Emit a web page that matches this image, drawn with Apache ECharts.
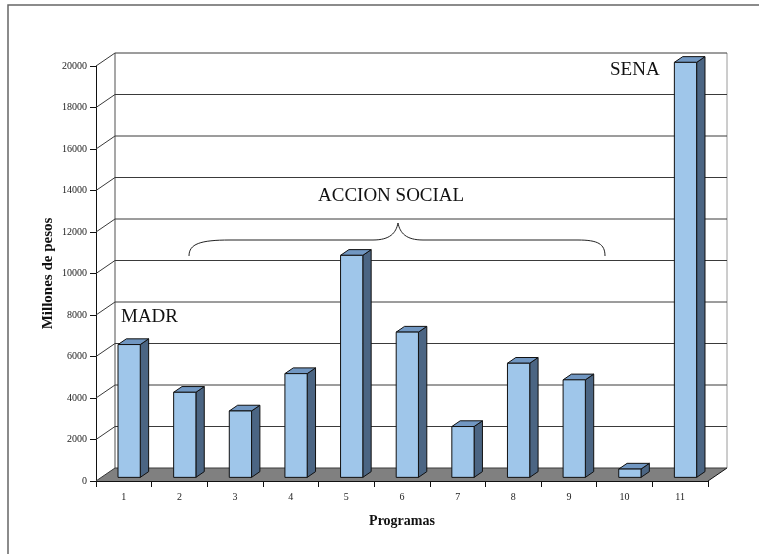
<!DOCTYPE html>
<html>
<head>
<meta charset="utf-8">
<script src="https://cdn.jsdelivr.net/npm/echarts@6/dist/echarts.min.js"></script>
<style>
  html, body { margin: 0; padding: 0; background: #fff; }
  #chart { width: 759px; height: 554px; }
</style>
</head>
<body>
<div id="chart"></div>
<script>
// Programas y montos asignados (millones de pesos)
const programas = ['1', '2', '3', '4', '5', '6', '7', '8', '9', '10', '11'];
const montos = [6400, 4100, 3200, 5000, 10700, 7000, 2450, 5500, 4700, 400, 20000];
const yTicks = [0, 2000, 4000, 6000, 8000, 10000, 12000, 14000, 16000, 18000, 20000];

// Oblique depth of the 3D box (pixels) and column placement inside it
const DEPTH_X = 19, DEPTH_Y = -13;
const COL_FRONT = 0.28, COL_BACK = 0.72, COL_WIDTH = 0.40;

const FONT = '"Liberation Serif", "DejaVu Serif", serif';
const chart = echarts.init(document.getElementById('chart'));

function wallRender(params, api) {
  const cs = params.coordSys;
  const v = api.value(0);
  const p = api.coord([0, v]);
  const x0 = cs.x, y = p[1];
  const xb = x0 + DEPTH_X, yb = y + DEPTH_Y;
  const xr = cs.x + cs.width + DEPTH_X;
  return {
    type: 'polyline',
    shape: { points: [[x0, y], [xb, yb], [xr, yb]] },
    style: { stroke: '#3a3a3a', lineWidth: 1, fill: null },
    silent: true
  };
}

function floorRender(params, api) {
  const cs = params.coordSys;
  const y0 = cs.y + cs.height;
  const xl = cs.x, xr = cs.x + cs.width;
  const top = cs.y;
  return {
    type: 'group',
    children: [
      { type: 'polygon', shape: { points: [[xl, y0], [xr, y0], [xr + DEPTH_X, y0 + DEPTH_Y], [xl + DEPTH_X, y0 + DEPTH_Y]] },
        style: { fill: '#808080' } },
      { type: 'line', shape: { x1: xl + DEPTH_X, y1: top + DEPTH_Y, x2: xl + DEPTH_X, y2: y0 + DEPTH_Y },
        style: { stroke: '#8a8a8a', lineWidth: 1.5 } },
      { type: 'line', shape: { x1: xr + DEPTH_X, y1: top + DEPTH_Y, x2: xr + DEPTH_X, y2: y0 + DEPTH_Y },
        style: { stroke: '#9a9a9a', lineWidth: 1 } },
      { type: 'line', shape: { x1: xr, y1: y0, x2: xr + DEPTH_X, y2: y0 + DEPTH_Y },
        style: { stroke: '#111', lineWidth: 1 } }
    ],
    silent: true
  };
}

function barRender(params, api) {
  const i = api.value(0), v = api.value(1);
  const base = api.coord([i, 0]);
  const topPt = api.coord([i, v]);
  const band = api.size([1, 0])[0];
  const w = band * COL_WIDTH;
  const fdx = DEPTH_X * COL_FRONT, fdy = DEPTH_Y * COL_FRONT;
  const bdx = DEPTH_X * COL_BACK, bdy = DEPTH_Y * COL_BACK;
  const xL = base[0] - w / 2 + fdx, xR = base[0] + w / 2 + fdx;
  const yB = base[1] + fdy, yT = topPt[1] + fdy;
  const ddx = bdx - fdx, ddy = bdy - fdy;
  const edge = { stroke: '#111', lineWidth: 1, lineJoin: 'round' };
  return {
    type: 'group',
    children: [
      { type: 'polygon', shape: { points: [[xR, yT], [xR + ddx, yT + ddy], [xR + ddx, yB + ddy], [xR, yB]] },
        style: Object.assign({ fill: '#4b6583' }, edge) },
      { type: 'polygon', shape: { points: [[xL, yT], [xL + ddx, yT + ddy], [xR + ddx, yT + ddy], [xR, yT]] },
        style: Object.assign({ fill: '#7197c2' }, edge) },
      { type: 'rect', shape: { x: xL, y: yT, width: xR - xL, height: yB - yT },
        style: Object.assign({ fill: '#9fc6ea' }, edge) }
    ]
  };
}

// Curly brace grouping programs 2 to 10
const braceStyle = { stroke: '#222', lineWidth: 1, fill: null };
const brace = [
  { type: 'bezierCurve', shape: { x1: 189, y1: 256, cpx1: 189, cpy1: 244, cpx2: 200, cpy2: 240, x2: 230, y2: 240 }, style: braceStyle, silent: true },
  { type: 'line', shape: { x1: 230, y1: 240, x2: 373, y2: 240 }, style: braceStyle, silent: true },
  { type: 'bezierCurve', shape: { x1: 373, y1: 240, cpx1: 390, cpy1: 240, cpx2: 396, cpy2: 233, x2: 398, y2: 223 }, style: braceStyle, silent: true },
  { type: 'bezierCurve', shape: { x1: 398, y1: 223, cpx1: 400, cpy1: 233, cpx2: 406, cpy2: 240, x2: 423, y2: 240 }, style: braceStyle, silent: true },
  { type: 'line', shape: { x1: 423, y1: 240, x2: 578, y2: 240 }, style: braceStyle, silent: true },
  { type: 'bezierCurve', shape: { x1: 578, y1: 240, cpx1: 598, cpy1: 240, cpx2: 605, cpy2: 244, x2: 605, y2: 256 }, style: braceStyle, silent: true }
];

chart.setOption({
  animation: false,
  backgroundColor: '#fff',
  grid: { left: 96, right: 51, top: 66, bottom: 73 },
  xAxis: {
    type: 'category',
    data: programas,
    name: 'Programas',
    nameLocation: 'middle',
    nameGap: 33,
    nameTextStyle: { fontFamily: FONT, fontWeight: 'bold', fontSize: 14, color: '#111' },
    axisLine: { lineStyle: { color: '#111', width: 1 } },
    axisTick: { show: true, length: 6, lineStyle: { color: '#111' } },
    axisLabel: { fontFamily: FONT, fontSize: 10, color: '#222', margin: 11 },
    splitLine: { show: false }
  },
  yAxis: {
    type: 'value',
    min: 0, max: 20000, interval: 2000,
    name: 'Millones de pesos',
    nameLocation: 'middle',
    nameGap: 40,
    nameMoveOverlap: false,
    nameTextStyle: { fontFamily: FONT, fontWeight: 'bold', fontSize: 15, color: '#111' },
    axisLine: { show: true, lineStyle: { color: '#111', width: 1 } },
    axisTick: { show: true, length: 6, lineStyle: { color: '#111' } },
    axisLabel: { fontFamily: FONT, fontSize: 10, color: '#222', margin: 9, formatter: v => String(v) },
    splitLine: { show: false }
  },
  series: [
    { type: 'custom', name: 'piso', renderItem: floorRender, data: [[0]], z: 1, silent: true },
    { type: 'custom', name: 'rejilla', renderItem: wallRender, data: yTicks.map(t => [t]),
      encode: { y: 0 }, z: 2, silent: true },
    { type: 'custom', name: 'Montos', renderItem: barRender,
      data: montos.map((v, i) => [i, v]), encode: { x: 0, y: 1 }, z: 5 }
  ],
  graphic: [
    { type: 'polyline', shape: { points: [[8, 554], [8, 5], [759, 5]] },
      style: { stroke: '#666', lineWidth: 1.5, fill: null }, silent: true },
    { type: 'text', x: 121, y: 308,
      style: { text: 'MADR', font: '19px ' + FONT, fill: '#111' } },
    { type: 'text', x: 318, y: 187,
      style: { text: 'ACCION SOCIAL', font: '19px ' + FONT, fill: '#111' } },
    { type: 'text', x: 610, y: 61,
      style: { text: 'SENA', font: '19px ' + FONT, fill: '#111' } }
  ].concat(brace)
});
</script>
</body>
</html>
